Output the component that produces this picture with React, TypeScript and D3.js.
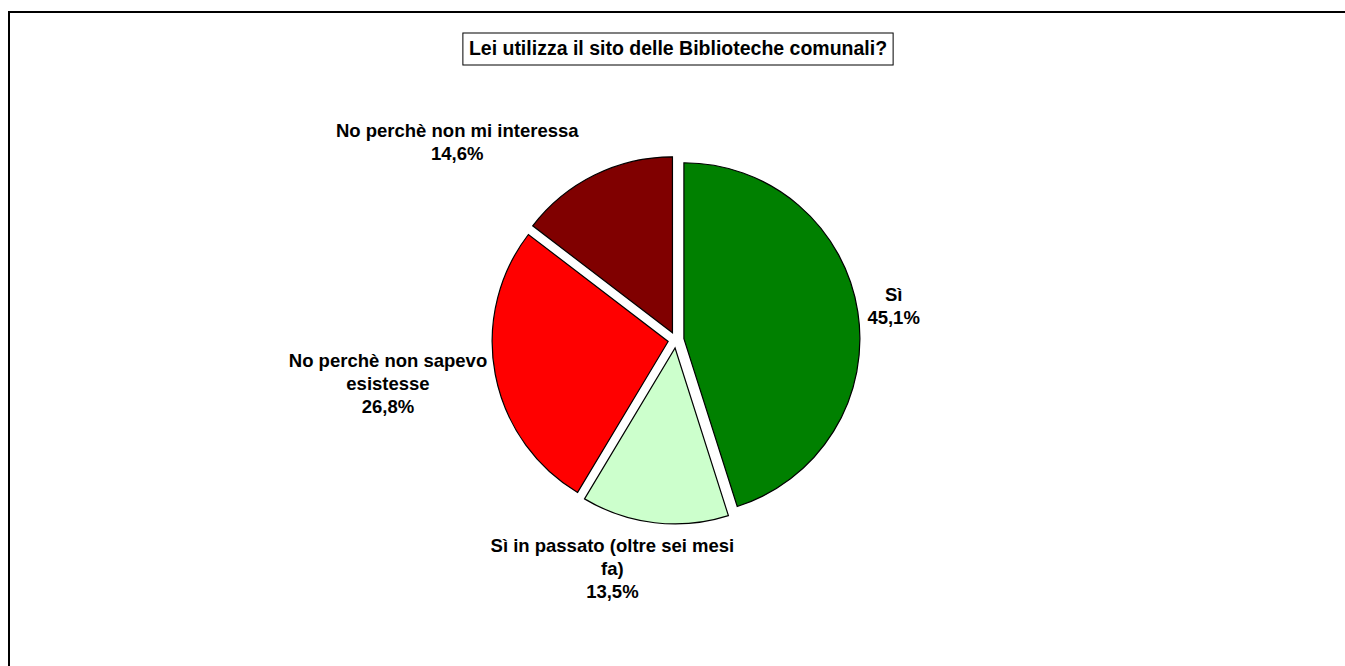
import React, { useRef, useEffect } from "react";
import * as d3 from "d3";

const title = "Lei utilizza il sito delle Biblioteche comunali?";
const categories = [
  ["Sì"],
  ["Sì in passato (oltre sei mesi", "fa)"],
  ["No perchè non sapevo", "esistesse"],
  ["No perchè non mi interessa"],
];
const values = [45.1, 13.5, 26.8, 14.6];
const colors = ["#008000", "#CCFFCC", "#FF0000", "#800000"];

// label nudges (px), Excel moved a couple of labels off the bisector
const labelShift = [
  [0, 0],
  [-27, 3],
  [0, 2],
  [-79, -2],
];

const W = 1345;
const H = 666;

const App = () => {
  const svgRef = useRef<SVGSVGElement | null>(null);

  useEffect(() => {
    const svg = d3.select(svgRef.current);
    svg.selectAll("*").remove();

    const cx = 676;
    const cy = 340;
    const radius = 176;
    const explode = 8;
    const font = "'Liberation Sans', Arial, sans-serif";

    // outer frame (runs past right/bottom edge like the screenshot)
    svg.append("rect")
      .attr("x", 9).attr("y", 12)
      .attr("width", W).attr("height", H)
      .attr("fill", "white")
      .attr("stroke", "black")
      .attr("stroke-width", 2);

    // title box
    const tg = svg.append("g");
    const tt = tg.append("text")
      .attr("x", 678).attr("y", 55)
      .attr("text-anchor", "middle")
      .style("font-family", font)
      .style("font-size", "19.5px")
      .style("font-weight", "bold")
      .text(title);
    const tb = (tt.node() as SVGTextElement).getBBox();
    tg.insert("rect", "text")
      .attr("x", tb.x - 6).attr("y", 33)
      .attr("width", tb.width + 12).attr("height", 32)
      .attr("fill", "white")
      .attr("stroke", "black")
      .attr("stroke-width", 1);

    const pie = d3.pie<number>().sort(null).value(d => d);
    const arcs = pie(values);
    const arc = d3.arc<d3.PieArcDatum<number>>().innerRadius(0).outerRadius(radius);

    const g = svg.append("g").attr("transform", `translate(${cx},${cy})`);

    g.selectAll("path")
      .data(arcs)
      .enter()
      .append("path")
      .attr("transform", d => {
        const a = (d.startAngle + d.endAngle) / 2;
        return `translate(${Math.sin(a) * explode},${-Math.cos(a) * explode})`;
      })
      .attr("d", arc)
      .attr("fill", (d, i) => colors[i])
      .attr("stroke", "black")
      .attr("stroke-width", 1.2);

    // data labels outside the end of each slice
    const lineH = 23;
    arcs.forEach((d, i) => {
      const a = (d.startAngle + d.endAngle) / 2;
      const lines = [...categories[i], values[i].toFixed(1).replace(".", ",") + "%"];
      const lbl = g.append("text")
        .attr("text-anchor", "middle")
        .style("font-family", font)
        .style("font-size", "18.5px")
        .style("font-weight", "bold")
        .attr("fill", "black");
      lines.forEach((t, j) => {
        lbl.append("tspan").attr("x", 0).attr("y", j * lineH).text(t);
      });
      const bb = (lbl.node() as SVGTextElement).getBBox();
      const w = bb.width;
      const h = lines.length * lineH;
      const r = radius + explode + 10;
      const ax = Math.sin(a) * r + Math.sin(a) * w / 2 + labelShift[i][0];
      const ay = -Math.cos(a) * r - Math.cos(a) * h / 2 + labelShift[i][1];
      const top = ay - h / 2 + 17;
      lbl.attr("transform", `translate(${ax},${top})`);
    });
  }, []);

  return (
    <svg
      ref={svgRef}
      width={W}
      height={H}
      style={{ position: "absolute", left: 0, top: 0, display: "block" }}
    />
  );
};

export default App;
